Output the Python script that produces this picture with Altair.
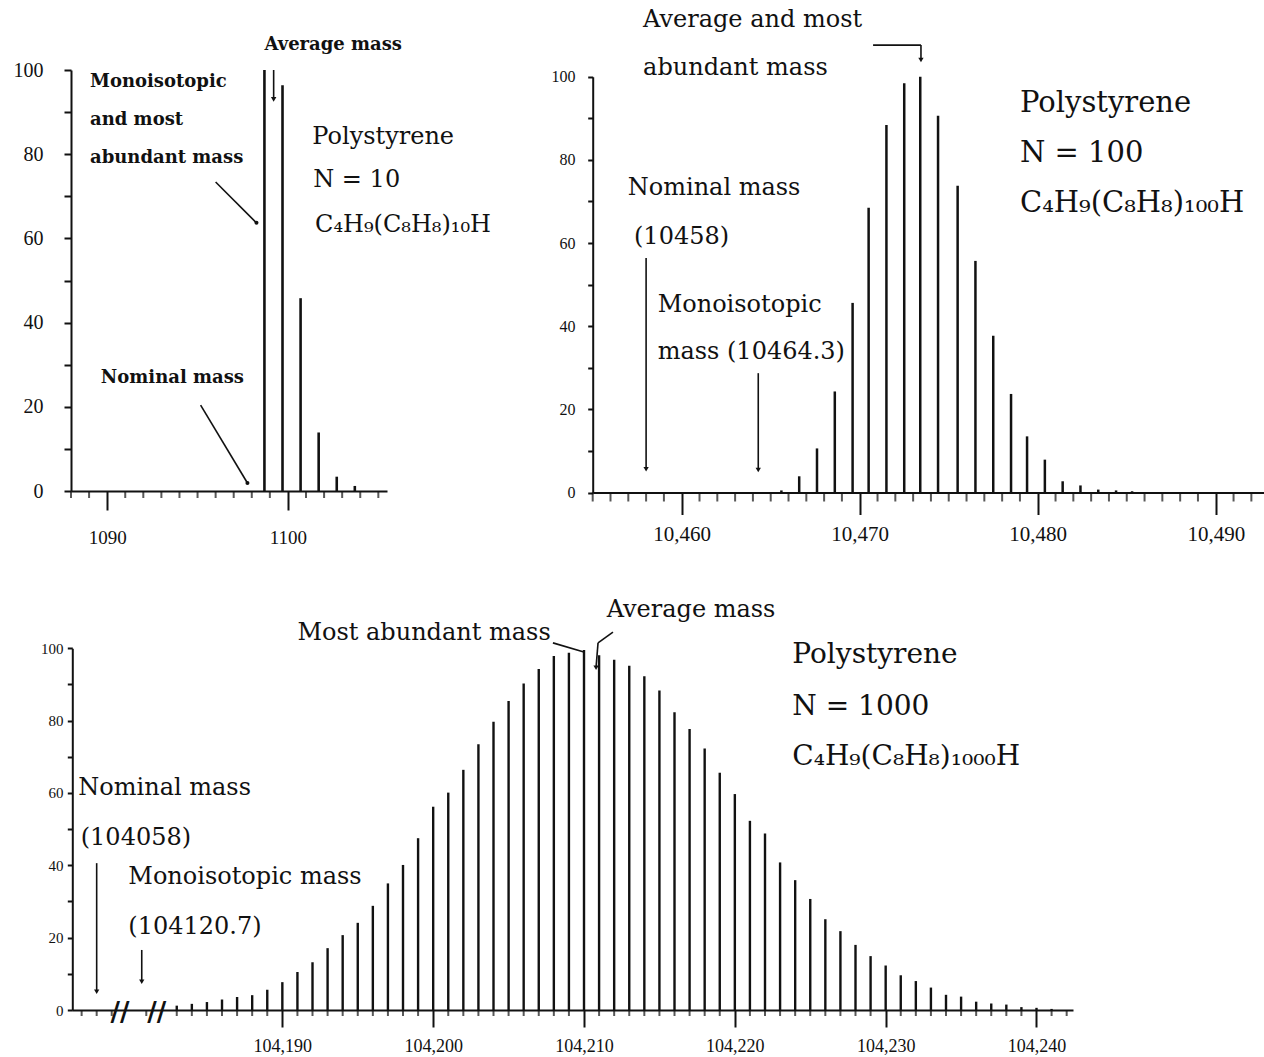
import altair as alt
import pandas as pd

SERIF = "DejaVu Serif"
TICK_FONT = "Liberation Serif"
INK = "#111111"

# ---------------- isotope clusters (relative abundance, %) ----------------
n10_mass = [1098.7, 1099.7, 1100.7, 1101.7, 1102.7, 1103.7]
n10_abund = [100.0, 96.4, 45.8, 13.9, 3.4, 1.2]

n100_mass = [10465.6, 10466.6, 10467.6, 10468.6, 10469.6, 10470.5, 10471.5,
             10472.5, 10473.4, 10474.4, 10475.5, 10476.5, 10477.5, 10478.5,
             10479.4, 10480.4, 10481.4, 10482.4, 10483.4, 10484.4, 10485.3]
n100_abund = [0.5, 3.9, 10.6, 24.3, 45.6, 68.5, 88.4, 98.4, 100.0, 90.6, 73.8,
              55.7, 37.7, 23.7, 13.5, 7.9, 2.7, 1.7, 0.7, 0.5, 0.3]

n1000_mass = [104183, 104184, 104185, 104186, 104187, 104188, 104189, 104190, 104191, 104192,
              104193, 104194, 104195, 104196, 104197, 104198, 104199, 104200, 104201, 104202,
              104203, 104204, 104205, 104206, 104207, 104208, 104209, 104210, 104211, 104212,
              104213, 104214, 104215, 104216, 104217, 104218, 104219, 104220, 104221, 104222,
              104223, 104224, 104225, 104226, 104227, 104228, 104229, 104230, 104231, 104232,
              104233, 104234, 104235, 104236, 104237, 104238, 104239, 104240, 104241]
n1000_abund = [1.2, 1.7, 2.2, 2.9, 3.6, 4.1, 5.6, 7.7, 10.5, 13.2,
               17.1, 20.7, 24.1, 28.8, 35.0, 40.1, 47.5, 56.2, 60.1, 66.4,
               73.5, 79.7, 85.4, 90.3, 94.3, 97.9, 98.8, 99.5, 98.1, 96.8,
               95.2, 92.3, 88.3, 82.3, 77.7, 72.3, 65.6, 59.7, 52.3, 48.8,
               40.8, 35.9, 30.7, 25.1, 21.8, 18.0, 14.9, 12.3, 9.6, 8.0,
               6.2, 4.2, 3.7, 2.3, 1.8, 1.5, 0.8, 0.6, 0.3]

# ---------------- tick labels ----------------
y_ticks = [0, 10, 20, 30, 40, 50, 60, 70, 80, 90, 100]
n10_xticks = [1090, 1100]
n100_xticks = [10460, 10470, 10480, 10490]
n1000_xticks = [104190, 104200, 104210, 104220, 104230, 104240]

# minor (unlabelled) mass ticks, one per unit
n10_minor = [m for m in range(1088, 1106) if m not in n10_xticks]
n100_minor = [m for m in range(10455, 10493) if m not in n100_xticks]
n1000_minor = [104057, 104058, 104059, 104121] + [
    m for m in range(104183, 104243) if m not in n1000_xticks]

# ---------------- annotation texts ----------------
n10_text = ["Average mass", "Monoisotopic", "and most", "abundant mass",
            "Nominal mass", "Polystyrene", "N = 10", "C₄H₉(C₈H₈)₁₀H"]
n100_text = ["Average and most", "abundant mass", "Nominal mass", "(10458)",
             "Monoisotopic", "mass (10464.3)", "Polystyrene", "N = 100",
             "C₄H₉(C₈H₈)₁₀₀H"]
n1000_text = ["Most abundant mass", "Average mass", "Nominal mass", "(104058)",
              "Monoisotopic mass", "(104120.7)", "Polystyrene", "N = 1000",
              "C₄H₉(C₈H₈)₁₀₀₀H"]

# marked masses
n100_nominal, n100_mono = 10458, 10464.3
n1000_nominal, n1000_mono = 104058, 104120.7


def notes(labels, xs, ys, sizes, weights):
    return pd.DataFrame({"label": labels, "x": xs, "y": ys, "fs": sizes, "fw": weights})


def segments(rows):
    return pd.DataFrame(rows, columns=["x", "y", "x2", "y2"])


def tips(rows):
    return pd.DataFrame(rows, columns=["x", "y", "shape", "sz"])


def x_axis(values, fmt, tick, pad, fs, offset):
    return alt.Axis(orient="bottom", offset=offset, values=values, format=fmt,
                    tickSize=tick, tickWidth=2, tickColor=INK, domainColor=INK,
                    domainWidth=2, labelPadding=pad, labelFont=TICK_FONT,
                    labelFontSize=fs, labelColor=INK, labelFlush=False,
                    labelOverlap=False, grid=False, title="")


def y_axis(tick, pad, fs, offset):
    return alt.Axis(orient="left", offset=offset, values=y_ticks, format="d",
                    labelExpr="datum.value % 20 === 0 ? datum.label : ''",
                    tickSize=tick, tickWidth=2, tickColor=INK, domainColor=INK,
                    domainWidth=2, labelPadding=pad, labelFont=TICK_FONT,
                    labelFontSize=fs, labelColor=INK, labelOverlap=False,
                    grid=False, title="")


def panel(mass, abund, xs, ys, xax, yax, minor, minor_len, note_df, seg_df, tip_df,
          bar_width=2.4, extra=None):
    # every layer of a panel carries the same scale and axis so they merge cleanly
    def X(f):
        return alt.X(f, type="quantitative", scale=xs, axis=xax)

    def Y(f):
        return alt.Y(f, type="quantitative", scale=ys, axis=yax)

    bars = alt.Chart(pd.DataFrame({"mass": mass, "abund": abund})).mark_rule(
        color=INK, strokeWidth=bar_width
    ).encode(x=X("mass"), y=Y("abund"), y2=alt.datum(0))

    ticks = alt.Chart(pd.DataFrame({"t": minor})).mark_tick(
        orient="vertical", size=minor_len, thickness=2, color=INK,
        yOffset=minor_len / 2
    ).encode(x=X("t"), y=alt.YDatum(0, scale=ys, axis=yax))

    segs = alt.Chart(seg_df).mark_rule(color=INK, strokeWidth=1.6).encode(
        x=X("x"), y=Y("y"), x2="x2:Q", y2="y2:Q"
    )

    heads = alt.Chart(tip_df).mark_point(filled=True, color=INK, opacity=1).encode(
        x=X("x"), y=Y("y"),
        shape=alt.Shape("shape:N", scale=None, legend=None),
        size=alt.Size("sz:Q", scale=None, legend=None),
    )
    layers = [bars, ticks, segs, heads]

    for weight in sorted(set(note_df["fw"])):
        layers.append(
            alt.Chart(note_df[note_df["fw"] == weight]).mark_text(
                align="left", baseline="middle", font=SERIF, color=INK,
                fontWeight=weight
            ).encode(
                x=X("x"), y=Y("y"), text="label:N",
                size=alt.Size("fs:Q", scale=None, legend=None),
            )
        )
    if extra is not None:
        layers.append(extra(X, ys, yax))
    return alt.layer(*layers)


# ---------------- N = 10 ----------------
xs10 = alt.Scale(domain=[1088, 1105.48], range=[71, 387], nice=False, zero=False)
ys10 = alt.Scale(domain=[0, 100], range=[491, 70], nice=False, zero=False)
p10 = panel(
    n10_mass, n10_abund, xs10, ys10,
    x_axis(n10_xticks, "d", 19, 18, 19, -566),
    y_axis(7, 21, 20, -71),
    n10_minor, 7,
    notes(n10_text,
          [1098.7, 1089.05, 1089.05, 1089.05, 1089.65, 1101.35, 1101.4, 1101.5],
          [105.9, 97.2, 88.1, 79.1, 26.8, 84.1, 73.9, 63.2],
          [18, 18, 18, 18, 18, 24, 24, 24],
          ["bold", "bold", "bold", "bold", "bold", "normal", "normal", "normal"]),
    segments([[1096.0, 73.4, 1098.26, 63.7],
              [1095.17, 20.4, 1097.76, 1.9],
              [1099.21, 100.0, 1099.21, 93.5]]),
    tips([[1098.26, 63.7, "circle", 16],
          [1097.76, 1.9, "circle", 16],
          [1099.21, 93.0, "triangle-down", 30]]),
    bar_width=2.6,
)

# ---------------- N = 100 ----------------
xs100 = alt.Scale(domain=[10455, 10492.71], range=[592.7, 1264], nice=False, zero=False)
ys100 = alt.Scale(domain=[0, 100], range=[492.5, 76.7], nice=False, zero=False)
p100 = panel(
    n100_mass, n100_abund, xs100, ys100,
    x_axis(n100_xticks, ",d", 22, 9, 21, -564.5),
    y_axis(5, 12.7, 16, -592.7),
    n100_minor, 9,
    notes(n100_text,
          [10457.83, 10457.83, 10456.97, 10457.32, 10458.65, 10458.65, 10479.0, 10479.0, 10479.0],
          [113.6, 102.0, 73.2, 61.5, 45.1, 33.9, 93.6, 81.6, 69.6],
          [24, 24, 24, 24, 24, 24, 29, 29, 29],
          ["normal"] * 9),
    segments([[n100_nominal, 56.4, n100_nominal, 5.8],
              [n100_mono, 28.7, n100_mono, 5.6],
              [10470.75, 107.6, 10473.44, 107.6],
              [10473.44, 107.6, 10473.44, 104.2]]),
    tips([[n100_nominal, 5.6, "triangle-down", 28],
          [n100_mono, 5.4, "triangle-down", 28],
          [10473.44, 104.0, "triangle-down", 28]]),
    bar_width=2.5,
)


# ---------------- N = 1000 (broken mass axis) ----------------
def breaks(X, ys, yax):
    return alt.Chart(pd.DataFrame({"b": [104090, 104150], "s": ["//", "//"]})).mark_text(
        align="center", baseline="middle", font="DejaVu Sans", fontSize=26,
        fontWeight="bold", color=INK, dy=3
    ).encode(x=X("b"), y=alt.YDatum(0, scale=ys, axis=yax), text="s:N")


xs1000 = alt.Scale(
    domain=[104056.38, 104059.55, 104119.26, 104121.69, 104181.67, 104242.42],
    range=[72.3, 120, 120, 156.7, 156.7, 1073],
    nice=False, zero=False,
)
ys1000 = alt.Scale(domain=[0, 100], range=[1010, 648.3], nice=False, zero=False)
p1000 = panel(
    n1000_mass, n1000_abund, xs1000, ys1000,
    x_axis(n1000_xticks, ",d", 17, 10.7, 18, -47),
    y_axis(5, 4.3, 15, -72.3),
    n1000_minor, 6,
    notes(n1000_text,
          [104191.0, 104211.5, 104056.78, 104056.94, 104119.81, 104119.81, 104223.81, 104223.81, 104223.81],
          [104.2, 110.6, 61.3, 47.5, 36.9, 23.0, 98.2, 83.9, 70.0],
          [24, 24, 24, 24, 24, 24, 28, 28, 28],
          ["normal"] * 9),
    segments([[n1000_nominal, 40.6, n1000_nominal, 5.3],
              [n1000_mono, 16.6, n1000_mono, 8.0],
              [104207.94, 101.5, 104209.99, 99.0],
              [104211.92, 104.5, 104210.93, 101.5],
              [104210.93, 101.5, 104210.8, 94.8]]),
    tips([[n1000_nominal, 5.06, "triangle-down", 28],
          [n1000_mono, 7.8, "triangle-down", 28],
          [104210.8, 94.6, "triangle-down", 28]]),
    extra=breaks,
)

chart = (
    alt.layer(p10, p100, p1000)
    .resolve_scale(x="independent", y="independent")
    .properties(
        width=1264,
        height=1057,
        autosize=alt.AutoSizeParams(type="none"),
        padding=0,
        background="white",
    )
    .configure_view(strokeOpacity=0)
)

chart.save("out.html", embed_options={"renderer": "svg", "actions": False})
